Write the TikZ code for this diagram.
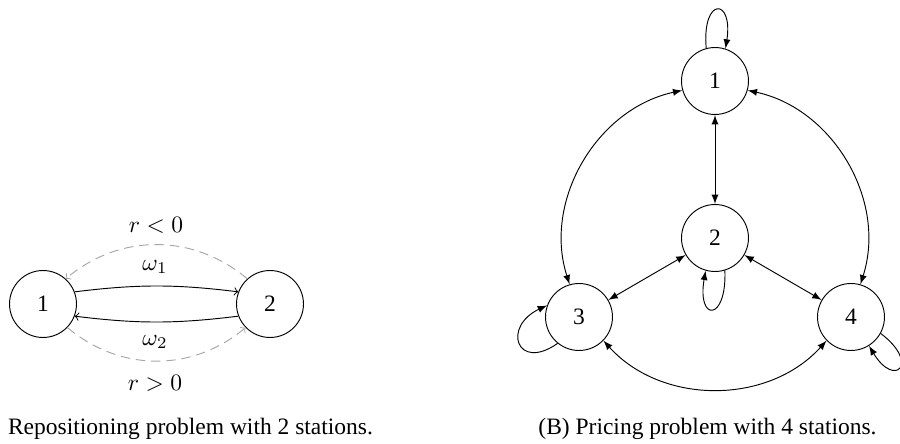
\documentclass[tikz,border=0pt]{standalone}
\usepackage{fontspec}
\setmainfont{Liberation Serif}
\usetikzlibrary{arrows}
\begin{document}
\begin{tikzpicture}[x=0.4255pt,y=-0.4255pt,
  station/.style={circle,draw,line width=0.4pt,inner sep=0pt,minimum size=28.5pt},
  flow/.style={->,line width=0.4pt},
  regdash/.style={->,gray!70,line width=0.4pt,dash pattern=on 4pt off 2.5pt},
  link/.style={latex-latex,line width=0.4pt},
  loopedge/.style={-latex,line width=0.4pt},
  caption/.style={anchor=base,inner sep=0pt}]
\clip (0,0) rectangle (900,444);
% left: repositioning
\node[station] (L1) at (43,304) {1};
\node[station] (L2) at (270,304) {2};
\draw[flow] (L1.21) to[bend left=7] (L2.159);
\draw[flow] (L2.201) to[bend left=7] (L1.-21);
\draw[regdash] (L2.132) to[bend right=40] (L1.48);
\draw[regdash] (L1.-44) to[bend right=40] (L2.-136);
\node (w1) at (155,267) {$\omega_1$};
\node (w2) at (155,342) {$\omega_2$};
\node (rneg) at (156,225) {$r<0$};
\node (rpos) at (155,383) {$r>0$};
% right: pricing
\node[station] (A1) at (715,81) {1};
\node[station] (A2) at (715,238) {2};
\node[station] (A3) at (579,317) {3};
\node[station] (A4) at (851,317) {4};
\draw[link] (A1) -- (A2);
\draw[link] (A2) -- (A3);
\draw[link] (A2) -- (A4);
\draw[link] (A1.196) to[out=192,in=108] (A3.106);
\draw[link] (A1.-16) to[out=-12,in=72] (A4.74);
\draw[link] (A3.-44) to[out=-48,in=228] (A4.-136);
\draw[loopedge] (A1.105) .. controls +(95:22.1pt) and +(81:22.1pt) .. (A1.72);
\draw[loopedge] (A2.-73) .. controls +(-88:22.1pt) and +(-100:22.1pt) .. (A2.-106);
\draw[loopedge] (A3.231) .. controls +(215:21.3pt) and +(205:21.3pt) .. (A3.160);
\draw[loopedge] (A4.-29) .. controls +(-37:21.3pt) and +(-59:21.3pt) .. (A4.-58);
% captions
\node[caption] (capA) at (190.5,434) {Repositioning problem with 2 stations.};
\node[caption] (capB) at (707.5,434) {(B) Pricing problem with 4 stations.};
\end{tikzpicture}
\end{document}
